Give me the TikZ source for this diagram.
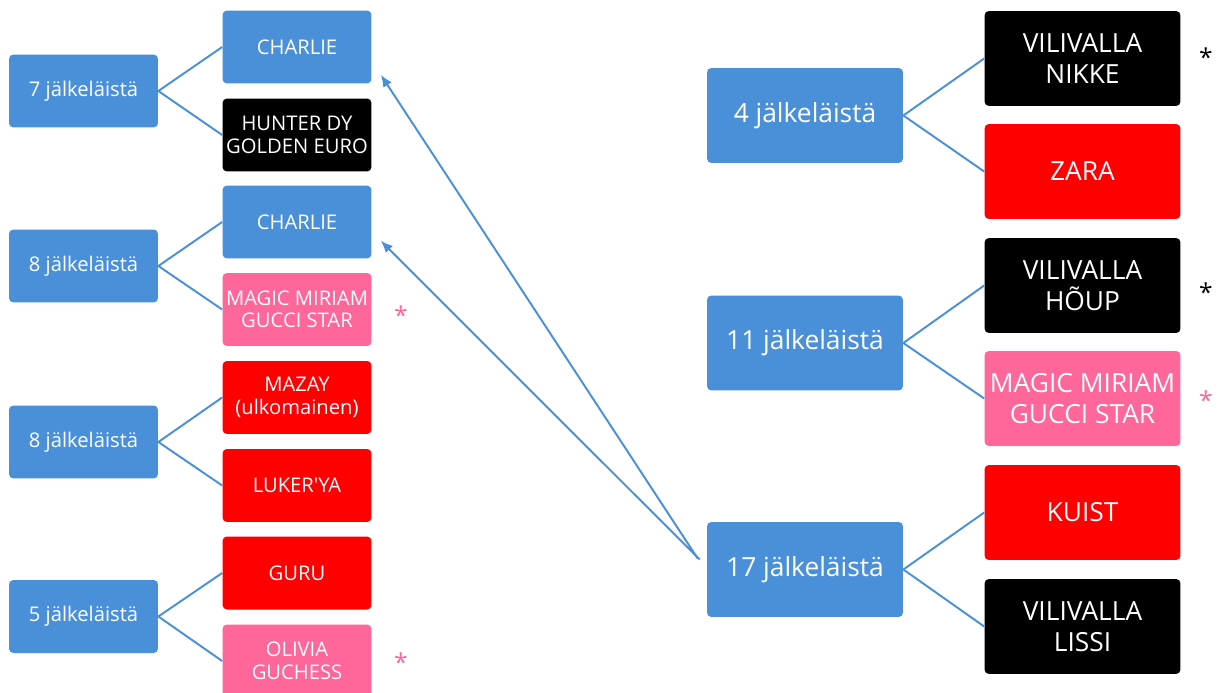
\documentclass[tikz,border=0pt]{standalone}
\usepackage{fontspec}
\setmainfont{Open Sans}
\usetikzlibrary{arrows.meta,calc}

\definecolor{sininen}{HTML}{4A90D9}
\definecolor{punainen}{HTML}{FF0000}
\definecolor{pinkki}{HTML}{FF6699}

\tikzset{
  laatikko/.style={rounded corners=2.5pt, text=white, align=center, inner sep=0pt},
  pieni/.style={laatikko, minimum width=2.98cm, minimum height=1.46cm,
    font=\fontsize{11.5}{12.8}\selectfont},
  iso/.style={laatikko, minimum width=3.92cm, minimum height=1.9cm,
    font=\fontsize{15}{17.5}\selectfont},
  viiva/.style={sininen, line width=1.1pt},
  nuoli/.style={viiva, -{Latex[length=2.4mm,width=2mm]}},
  tahti/.style={font=\fontsize{14}{14}\selectfont, inner sep=0pt},
}

\begin{document}
\begin{tikzpicture}[x=0.02cm, y=-0.02cm]

  % Kuvan rajat (pikseleinä)
  \clip (0,0) rectangle (1217,693);

  % Vasemman puolen vanhemmat
  \foreach \y/\n [count=\i] in {91/7, 266/8, 442/8, 616.5/5} {
    \node[pieni, fill=sininen] (v\i) at (83.5,\y) {\n{} jälkeläistä};
  }

  % Vasemman puolen jälkeläiset
  \node[pieni, fill=sininen]  (a1) at (297,47)    {CHARLIE};
  \node[pieni, fill=black]    (a2) at (297,135)   {HUNTER DY\\GOLDEN EURO};
  \node[pieni, fill=sininen]  (a3) at (297,222)   {CHARLIE};
  \node[pieni, fill=pinkki]   (a4) at (297,309.5) {MAGIC MIRIAM\\GUCCI STAR};
  \node[pieni, fill=punainen] (a5) at (297,397.5) {MAZAY\\(ulkomainen)};
  \node[pieni, fill=punainen] (a6) at (297,485.5) {LUKER\textquotesingle YA};
  \node[pieni, fill=punainen] (a7) at (297,573)   {GURU};
  \node[pieni, fill=pinkki]   (a8) at (297,661)   {OLIVIA\\GUCHESS};

  % Oikean puolen vanhemmat
  \foreach \y/\n [count=\i] in {115.5/4, 343/11, 569.5/17} {
    \node[iso, fill=sininen] (o\i) at (805,\y) {\n{} jälkeläistä};
  }

  % Oikean puolen jälkeläiset
  \node[iso, fill=black]    (b1) at (1082.5,58.5)  {VILIVALLA\\NIKKE};
  \node[iso, fill=punainen] (b2) at (1082.5,171.5) {ZARA};
  \node[iso, fill=black]    (b3) at (1082.5,285.5) {VILIVALLA\\HÕUP};
  \node[iso, fill=pinkki]   (b4) at (1082.5,398.5) {MAGIC MIRIAM\\GUCCI STAR};
  \node[iso, fill=punainen] (b5) at (1082.5,512.5) {KUIST};
  \node[iso, fill=black]    (b6) at (1082.5,626.5) {VILIVALLA\\LISSI};

  % Haarat vanhemmasta jälkeläisiin
  \foreach \p/\c in {v1/a1, v1/a2, v2/a3, v2/a4, v3/a5, v3/a6, v4/a7, v4/a8,
                     o1/b1, o1/b2, o2/b3, o2/b4, o3/b5, o3/b6} {
    \draw[viiva] (\p.east) -- (\c.west);
  }

  % Nuolet 17 jälkeläisestä CHARLIE-laatikoihin
  \coordinate (alku1) at ($(o3.west)+(-9,-11)$);
  \coordinate (alku2) at ($(o3.west)+(-7,-10)$);
  \coordinate (karki1) at ($(a1.south east)+(9,-9)$);
  \coordinate (karki2) at ($(a3.south east)+(9,-18)$);
  \draw[nuoli] (alku1) -- (karki1);
  \draw[nuoli] (alku2) -- (karki2);

  % Tähdet
  \node[tahti, text=black]  (t1) at (1206,57)  {*};
  \node[tahti, text=black]  (t2) at (1206,292) {*};
  \node[tahti, text=pinkki] (t3) at (1206,400) {*};
  \node[tahti, text=pinkki] (t4) at (401,315)  {*};
  \node[tahti, text=pinkki] (t5) at (401,662)  {*};

\end{tikzpicture}
\end{document}
